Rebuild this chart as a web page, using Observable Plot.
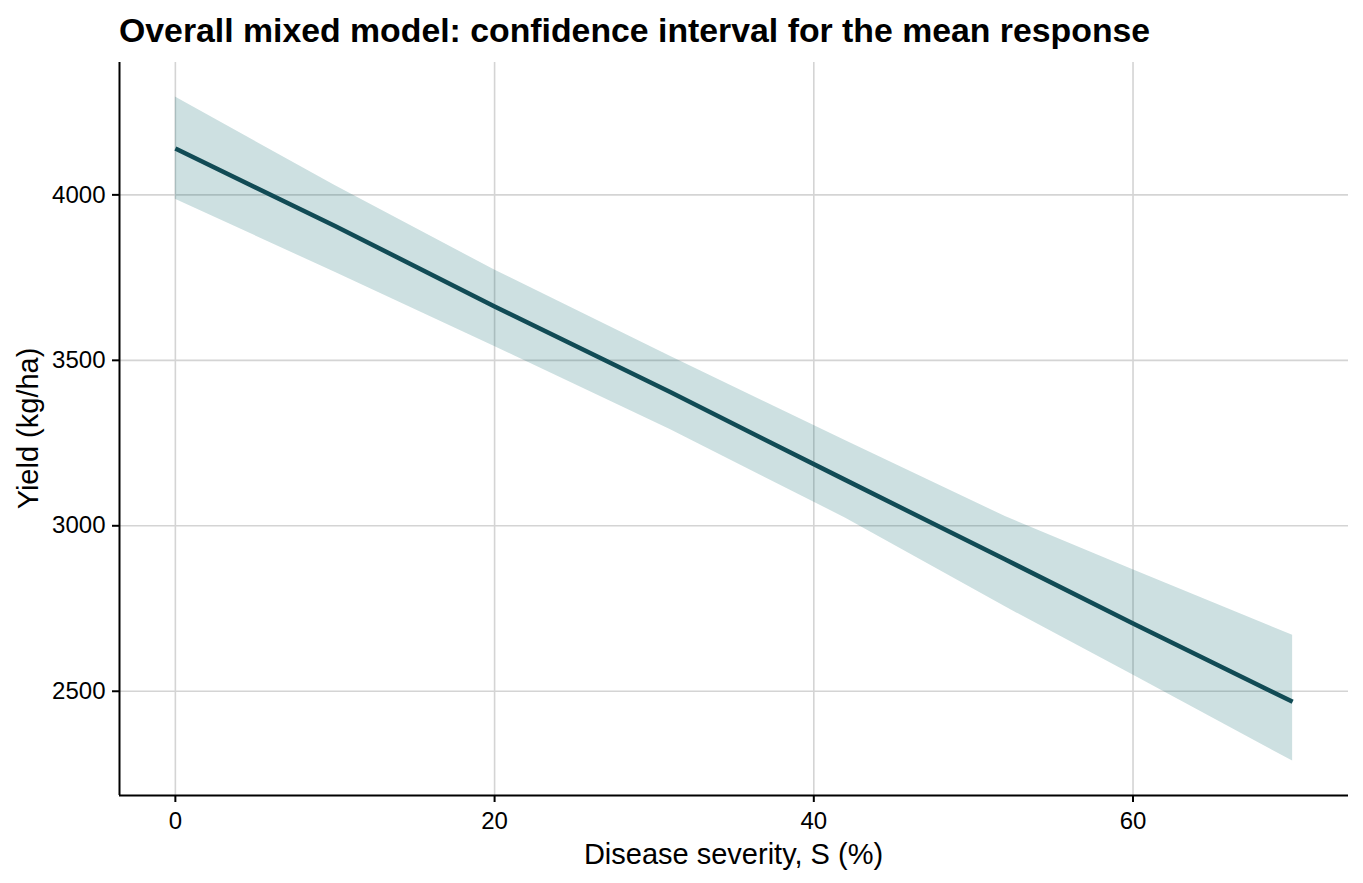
<!DOCTYPE html>
<html>
<head>
<meta charset="utf-8">
<script src="https://cdn.jsdelivr.net/npm/d3@7"></script>
<script src="https://cdn.jsdelivr.net/npm/@observablehq/plot@0.6"></script>
<style>
  html, body { margin: 0; padding: 0; background: #ffffff; }
  #title {
    font-family: "Liberation Sans", Arial, sans-serif;
    font-weight: bold;
    font-size: 33.8px;
    line-height: 40px;
    height: 40px;
    padding: 10px 0 0 119px;
    color: #000;
    white-space: nowrap;
  }
  #chart svg { display: block; }
</style>
</head>
<body>
<div id="title">Overall mixed model: confidence interval for the mean response</div>
<div id="chart"></div>
<script>
// Data
const severity = [0, 10, 20, 31, 42, 52, 60, 70];
const fitted   = [4140, 3906, 3663, 3404, 3138, 2898, 2705, 2468];
const lower    = [3987, 3766, 3542, 3291, 3023, 2755, 2549, 2289];
const upper    = [4296, 4028, 3773, 3512, 3257, 3028, 2867, 2669];

const xTicks = [0, 20, 40, 60];
const yTicks = [2500, 3000, 3500, 4000];
const xDomain = [-3.5, 73.5];
const yDomain = [2185, 4400];

const xTitle = "Disease severity, S (%)";
const yTitle = "Yield (kg/ha)";

const data = severity.map((s, i) => ({s, fit: fitted[i], lo: lower[i], hi: upper[i]}));

const W = 1363, H = 833;
const mL = 119, mR = 15, mT = 12, mB = 88;

const chart = Plot.plot({
  width: W,
  height: H,
  marginLeft: mL,
  marginRight: mR,
  marginTop: mT,
  marginBottom: mB,
  x: {domain: xDomain},
  y: {domain: yDomain},
  style: {
    fontFamily: "Liberation Sans, Arial, sans-serif",
    fontSize: "24px",
    color: "#000",
    background: "#fff",
    overflow: "visible"
  },
  marks: [
    Plot.gridX(xTicks, {stroke: "#d4d4d4", strokeOpacity: 1, strokeWidth: 1.6}),
    Plot.gridY(yTicks, {stroke: "#d4d4d4", strokeOpacity: 1, strokeWidth: 1.6}),
    Plot.areaY(data, {x: "s", y1: "lo", y2: "hi", fill: "#05646a", fillOpacity: 0.2}),
    Plot.line(data, {x: "s", y: "fit", stroke: "#114b55", strokeWidth: 4.5, strokeLinecap: "butt"}),
    Plot.ruleY([yDomain[0]], {stroke: "#000", strokeWidth: 2}),
    Plot.ruleX([xDomain[0]], {stroke: "#000", strokeWidth: 2}),
    Plot.axisX(xTicks, {tickSize: 7, tickPadding: 9, strokeWidth: 2, label: null, fill: "#000", fontSize: 24}),
    Plot.axisY(yTicks, {tickSize: 7, tickPadding: 7, strokeWidth: 2, label: null, fill: "#000", fontSize: 24, tickFormat: d => String(d)})
  ]
});

const svg = d3.select(chart);
const cx = mL + (W - mL - mR) / 2;
const cy = mT + (H - mT - mB) / 2;
svg.append("text")
  .attr("x", cx)
  .attr("y", 814)
  .attr("text-anchor", "middle")
  .attr("font-size", "29px")
  .attr("fill", "#000")
  .text(xTitle);
svg.append("text")
  .attr("transform", `translate(37.5,${cy}) rotate(-90)`)
  .attr("text-anchor", "middle")
  .attr("font-size", "29px")
  .attr("fill", "#000")
  .text(yTitle);

document.getElementById("chart").appendChild(chart);
</script>
</body>
</html>
